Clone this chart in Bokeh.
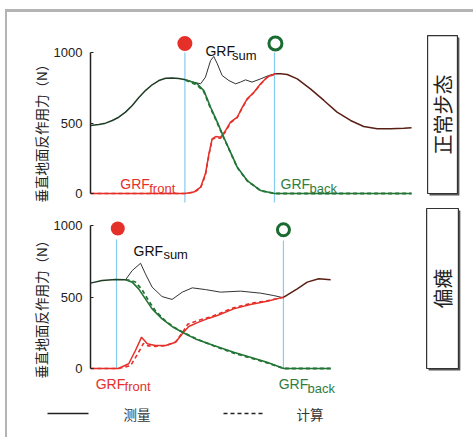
import numpy as np
from bokeh.plotting import figure
from bokeh.models import FixedTicker, Range1d
from bokeh.layouts import column, row
from bokeh.embed import file_html
from bokeh.resources import INLINE
from bokeh.core.properties import value

# ---------------- data (time in % of top-panel span, force in N) -------------
# Normal gait (top panel)
n_pre_t = [0, 2.6, 4.7, 6.8, 8.8, 10.9, 13.0, 15.0, 17.1, 19.2, 21.3, 23.4, 25.4, 27.5, 29.6]
n_pre_f = [482, 489, 499, 518, 541, 577, 624, 679, 730, 771, 801, 817, 820, 816, 806]

n_back_t = [29.6, 33.2, 35.3, 37.4, 39.5, 41.5, 43.6, 45.7, 48.8, 53.0, 57.3, 100]
n_back_f = [806, 778, 730, 612, 506, 399, 293, 187, 92, 21, 0, 0]
n_back_calc_f = [804, 770, 722, 605, 500, 395, 290, 185, 90, 20, 0, 0]

n_front_t = [0, 29.4, 32.2, 34.3, 35.8, 36.9, 37.9, 39.0, 40.5, 42.1, 43.6, 45.7, 47.3, 48.8, 50.9, 53.0, 55.0, 57.6]
n_front_f = [0, 0, 10, 45, 140, 282, 388, 404, 399, 447, 506, 541, 612, 671, 718, 778, 825, 849]
n_front_calc_f = [0, 0, 8, 40, 132, 275, 385, 395, 392, 440, 500, 538, 608, 668, 716, 776, 823, 849]

n_sum_t = [29.6, 32.1, 34.3, 35.8, 37.4, 38.4, 39.5, 41.0, 43.1, 45.2, 46.7, 48.3, 50.3, 53.0, 55.5, 57.6]
n_sum_f = [806, 790, 778, 825, 943, 972, 920, 837, 801, 778, 790, 806, 790, 813, 837, 849]

n_post_t = [57.6, 59.2, 61.3, 64.4, 68.5, 72.7, 76.8, 81.0, 85.1, 89.3, 93.5, 97.6, 100]
n_post_f = [849, 849, 844, 813, 742, 660, 577, 518, 475, 459, 459, 463, 466]

n_contacts = [29.4, 57.3]

# Hemiplegic gait (bottom panel)
h_pre_t = [0, 3.6, 7.8, 10.9]
h_pre_f = [597, 615, 622, 620]

h_back_t = [10.9, 13.0, 15.0, 17.1, 19.2, 22.3, 25.4, 28.6, 32.7, 38.4, 44.6, 49.8, 55.0, 60.2, 74.8]
h_back_f = [620, 604, 557, 487, 417, 347, 294, 254, 207, 161, 114, 79, 44, 0, 0]
h_back_calc_t = [10.9, 12.2, 14.0, 16.1, 18.2, 20.3, 23.0, 26.0, 29.0, 33.0, 38.4, 44.6, 49.8, 55.0, 60.2, 74.8]
h_back_calc_f = [620, 618, 605, 550, 470, 400, 340, 288, 250, 207, 158, 108, 74, 40, 0, 0]

h_front_t = [0, 8.7, 11.9, 14.0, 15.9, 17.7, 20.2, 23.4, 26.5, 28.6, 30.6, 33.7, 36.9, 39.5, 44.6, 49.8, 55.0, 60.2]
h_front_f = [0, 0, 33, 126, 219, 173, 161, 161, 184, 243, 294, 324, 352, 371, 417, 448, 471, 499]
h_front_calc_t = [0, 8.7, 12.5, 14.5, 16.5, 17.9, 20.2, 23.4, 26.5, 28.6, 30.3, 33.4, 36.9, 39.5, 44.6, 49.8, 55.0, 60.2]
h_front_calc_f = [0, 0, 20, 95, 175, 158, 155, 160, 185, 250, 310, 335, 358, 378, 425, 455, 473, 499]

h_sum_t = [10.9, 13.0, 15.6, 17.1, 19.2, 22.3, 25.4, 28.6, 31.7, 35.8, 40.5, 46.7, 53.0, 57.1, 60.2]
h_sum_f = [620, 685, 736, 662, 569, 503, 483, 534, 564, 552, 534, 541, 527, 510, 494]

h_post_t = [60.2, 64.4, 67.5, 71.1, 74.8]
h_post_f = [499, 557, 604, 627, 620]

h_contacts = [8.1, 60.1]

y_ticks = [0, 500, 1000]
panel_names = ["正常步态", "偏瘫"]
y_label = "垂直地面反作用力（N）"
legend_labels = ["测量", "计算"]

# ---------------- styles ----------------
RED = "#e5302a"
GREEN = "#237535"
GREEN_TXT = "#2f7d3e"
DARKGREEN = "#1e3d25"
BROWN = "#5a1f14"
BLACK = "#333333"
BLUE = "#86cdef"
LATIN = "Liberation Sans"
CJK = "Noto Sans CJK SC"

LABEL_W = 43
PANEL_W = 423


def bare_fig(width, height, xr, yr):
    f = figure(width=width, height=height, x_range=xr, y_range=yr,
               output_backend="svg", toolbar_location=None, title=None,
               x_axis_location=None, y_axis_location=None,
               min_border_left=0, min_border_right=0, min_border_top=0,
               min_border_bottom=0)
    f.outline_line_color = None
    f.grid.visible = False
    return f


def make_panel(height, y_start, y_end):
    p = figure(width=PANEL_W, height=height, x_range=Range1d(0, 119.3),
               y_range=Range1d(y_start, y_end), output_backend="svg",
               toolbar_location=None, x_axis_location=None, title=None,
               min_border_left=40, min_border_right=0, min_border_top=0,
               min_border_bottom=0)
    p.outline_line_color = None
    p.grid.visible = False
    ax = p.yaxis[0]
    ax.bounds = (0, 1000)
    ax.ticker = FixedTicker(ticks=y_ticks)
    ax.minor_tick_line_color = None
    ax.major_tick_in = 3
    ax.major_tick_out = 0
    ax.major_label_standoff = 8
    ax.axis_line_color = "#222222"
    ax.axis_line_width = 1.5
    ax.major_tick_line_color = "#222222"
    ax.major_label_text_font = LATIN
    ax.major_label_text_font_size = "13px"
    ax.major_label_text_color = "#222222"
    return p


def label_fig(height, y_top, y_bottom, yc):
    f = bare_fig(LABEL_W, height, Range1d(7, 7 + LABEL_W), Range1d(y_bottom, y_top))
    f.text(x=[40], y=[yc], text=[y_label], angle=np.pi / 2,
           text_font=value(CJK), text_font_size=value("13.5px"),
           text_color="#222222", text_align="center", text_baseline="middle")
    return f


def sub_label(p, x, y, x2, y2, main, sub, color):
    p.text(x=[x], y=[y], text=[main], text_font=value(LATIN),
           text_font_size=value("14px"), text_color=color,
           text_align="left", text_baseline="alphabetic")
    p.text(x=[x2], y=[y2], text=[sub], text_font=value(LATIN),
           text_font_size=value("13px"), text_color=color,
           text_align="left", text_baseline="alphabetic")


def side_box(p, left, right, top, name, yc):
    p.quad(left=[left + 0.6], right=[right + 0.6], top=[top - 14], bottom=[-14],
           fill_color="#555555", line_color=None)
    p.quad(left=[left], right=[right], top=[top], bottom=[0],
           fill_color="white", line_color="#333333", line_width=1.2)
    p.text(x=[(left + right) / 2], y=[yc], text=[name], angle=np.pi / 2,
           text_font=value(CJK), text_font_size=value("20px"),
           text_color="#222222", text_align="center", text_baseline="middle")


# ---------------- top panel ----------------
top = make_panel(193, -85.1, 1283.7)
for c in n_contacts:
    top.line([c, c], [-64, 1000], line_color=BLUE, line_width=1.2)
top.line(n_front_t, n_front_calc_f, line_color=RED, line_width=1.6, line_dash="4 3")
top.line(n_back_t, n_back_calc_f, line_color=GREEN, line_width=1.8, line_dash="4 3")
top.line(n_sum_t, n_sum_f, line_color=BLACK, line_width=1)
top.line(n_front_t, n_front_f, line_color=RED, line_width=1.5)
top.line(n_back_t, n_back_f, line_color=GREEN, line_width=1.6)
top.line(n_pre_t, n_pre_f, line_color=DARKGREEN, line_width=1.5)
top.line(n_post_t, n_post_f, line_color=BROWN, line_width=1.5)
top.scatter([n_contacts[0]], [1064], size=15, fill_color=RED, line_color=None)
top.scatter([n_contacts[1] + 0.3], [1064], size=13, fill_color="white",
            line_color="#1a6b30", line_width=3)
sub_label(top, 35.8, 1014, 44.1, 979, "GRF", "sum", "#111111")
sub_label(top, 9.3, 69, 18.3, 33, "GRF", "front", RED)
sub_label(top, 59.2, 69, 68.2, 33, "GRF", "back", GREEN_TXT)
side_box(top, 105.0, 114.3, 1120, panel_names[0], 560)

# ---------------- bottom panel ----------------
bot = make_panel(195, -223.8, 1139.9)
bot.line([h_contacts[0], h_contacts[0]], [0, 902], line_color=BLUE, line_width=1.2)
bot.line([h_contacts[1], h_contacts[1]], [0, 895], line_color=BLUE, line_width=1.2)
bot.line(h_front_calc_t, h_front_calc_f, line_color=RED, line_width=1.6, line_dash="4 3")
bot.line(h_back_calc_t, h_back_calc_f, line_color=GREEN, line_width=1.8, line_dash="4 3")
bot.line(h_sum_t, h_sum_f, line_color=BLACK, line_width=1)
bot.line(h_front_t, h_front_f, line_color=RED, line_width=1.5)
bot.line(h_back_t, h_back_f, line_color=GREEN, line_width=1.6)
bot.line(h_pre_t, h_pre_f, line_color=DARKGREEN, line_width=1.5)
bot.line(h_post_t, h_post_f, line_color=BROWN, line_width=1.5)
bot.scatter([8.5], [979], size=14, fill_color=RED, line_color=None)
bot.scatter([h_contacts[1]], [970], size=12, fill_color="white",
            line_color="#1a6b30", line_width=3)
sub_label(bot, 13.4, 825, 22.7, 797, "GRF", "sum", "#111111")
sub_label(bot, 1.6, -105, 10.6, -126, "GRF", "front", RED)
sub_label(bot, 58.6, -105, 67.6, -140, "GRF", "back", GREEN_TXT)
side_box(bot, 104.7, 114.6, 1119, panel_names[1], 559)

# ---------------- y-axis titles ----------------
lab_top = label_fig(193, 12, 205, 129.5)
lab_bot = label_fig(195, 205, 400, 305.5)

# ---------------- legend strip (page-pixel coordinates) ----------------
leg = bare_fig(LABEL_W + PANEL_W, 37, Range1d(7, 7 + LABEL_W + PANEL_W), Range1d(437, 400))
leg.line([47, 88], [413, 413], line_color="#222222", line_width=1.5)
leg.line([223, 265], [413, 413], line_color="#222222", line_width=1.5, line_dash="4 3")
leg.text(x=[123, 296], y=[413, 413], text=legend_labels, text_font=value(CJK),
         text_font_size=value("13.5px"), text_color="#333333",
         text_align="left", text_baseline="middle")

layout = column(row(lab_top, top, spacing=0), row(lab_bot, bot, spacing=0), leg,
                spacing=0,
                styles={"border-left": "2px solid #b4b4b4",
                        "border-top": "3px solid #b4b4b4",
                        "margin-left": "5px", "margin-top": "9px"})

open("out.html", "w").write(file_html(layout, INLINE))
